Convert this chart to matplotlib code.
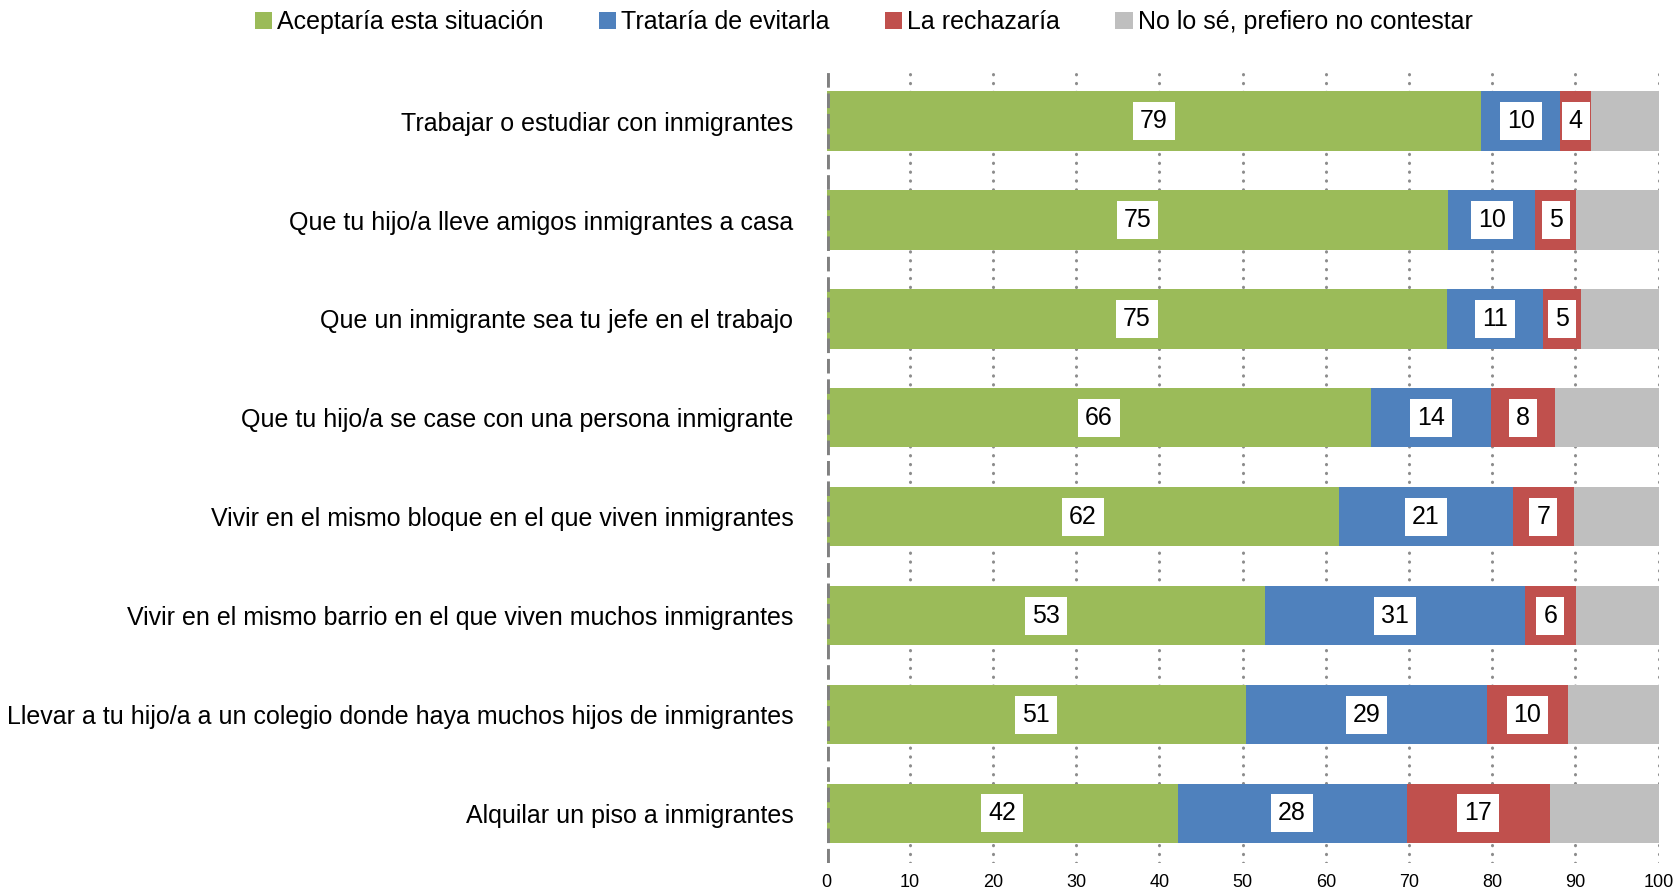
import numpy as np
import matplotlib.pyplot as plt

plt.rcParams['font.family'] = ['Liberation Sans', 'DejaVu Sans']

# datos (porcentajes)
categorias = [
    "Trabajar o estudiar con inmigrantes",
    "Que tu hijo/a lleve amigos inmigrantes a casa",
    "Que un inmigrante sea tu jefe en el trabajo",
    "Que tu hijo/a se case con una persona inmigrante",
    "Vivir en el mismo bloque en el que viven inmigrantes",
    "Vivir en el mismo barrio en el que viven muchos inmigrantes",
    "Llevar a tu hijo/a a un colegio donde haya muchos hijos de inmigrantes",
    "Alquilar un piso a inmigrantes",
]
acepta = [78.7, 74.7, 74.6, 65.4, 61.6, 52.7, 50.4, 42.2]
evita = [9.5, 10.5, 11.5, 14.4, 20.9, 31.2, 29.0, 27.5]
rechaza = [3.7, 4.9, 4.6, 7.7, 7.3, 6.2, 9.7, 17.2]
etiq_acepta = [79, 75, 75, 66, 62, 53, 51, 42]
etiq_evita = [10, 10, 11, 14, 21, 31, 29, 28]
etiq_rechaza = [4, 5, 5, 8, 7, 6, 10, 17]
series = ["Aceptaría esta situación", "Trataría de evitarla", "La rechazaría",
          "No lo sé, prefiero no contestar"]
colores = ["#9BBB59", "#4F81BD", "#C0504D", "#BFBFBF"]

acepta = np.array(acepta)
evita = np.array(evita)
rechaza = np.array(rechaza)
nosabe = 100 - acepta - evita - rechaza

fig = plt.figure(figsize=(16.77, 8.96), dpi=100)
ax = fig.add_axes([0.493, 0.037, 0.496, 0.883])

y = np.arange(len(categorias))
izq = np.zeros(len(categorias))
valores = [acepta, evita, rechaza, nosabe]
etiquetas = [etiq_acepta, etiq_evita, etiq_rechaza, None]
for serie, val, col, et in zip(series, valores, colores, etiquetas):
    ax.barh(y, val, left=izq, height=0.6, color=col, label=serie, zorder=3)
    if et is not None:
        for yi, l, v, e in zip(y, izq, val, et):
            ax.text(l + v / 2, yi, str(e), ha="center", va="center", fontsize=18,
                    zorder=4, bbox=dict(boxstyle="square,pad=0.28", fc="white", ec="none"))
    izq = izq + val

# rejilla punteada
for xv in range(10, 101, 10):
    ax.axvline(xv, color="#8c8c8c", lw=2.2, ls=(0, (0.1, 2.8)),
               dash_capstyle="round", zorder=1)
ax.axvline(0, color="#808080", lw=3.5, ls=(0, (3, 1.2)), zorder=5)

ax.set_xlim(0, 100)
ax.set_ylim(len(categorias) - 0.5, -0.5)
ax.set_xticks(range(0, 101, 10))
ax.set_yticks(y)
ax.set_yticklabels(categorias, fontsize=18)
ax.tick_params(axis="x", labelsize=13, length=0, pad=8)
ax.tick_params(axis="y", length=0, pad=24)
for s in ax.spines.values():
    s.set_visible(False)

handles, labels = ax.get_legend_handles_labels()
fig.legend(handles, labels, loc="center", bbox_to_anchor=(0.515, 0.975), ncol=4,
           frameon=False, fontsize=18, handlelength=0.7, handleheight=0.7,
           handletextpad=0.2, columnspacing=2.2)

fig.savefig("out.png", dpi=100)
